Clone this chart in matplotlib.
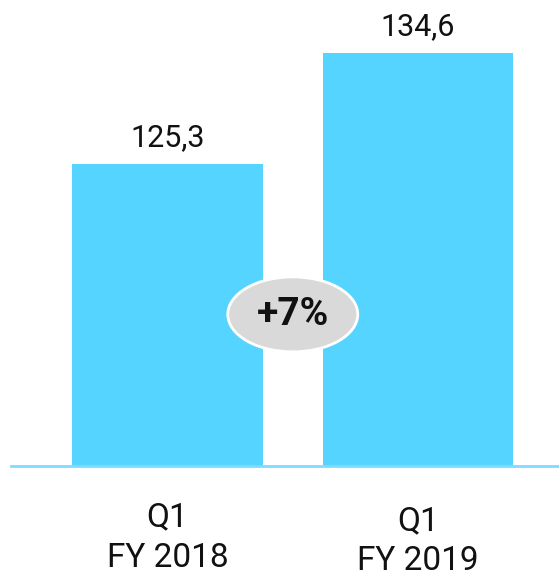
import matplotlib
matplotlib.use("Agg")
import matplotlib.pyplot as plt
from matplotlib.patches import Ellipse
from matplotlib.transforms import blended_transform_factory

categories = ["Q1\nFY 2018", "Q1\nFY 2019"]
values = [125.3, 134.6]
value_labels = ["125,3", "134,6"]
growth_label = "+7%"

plt.rcParams['font.family'] = ['Roboto', 'DejaVu Sans']

W, H, DPI = 559, 580, 100
fig = plt.figure(figsize=(W / DPI, H / DPI), dpi=DPI)
base_px = 466  # baseline pixel from top
ax = fig.add_axes([11 / W, (H - base_px) / H, 1 - 11 / W, base_px / H])

bar_color = "#55D4FF"
x = list(range(len(values)))
ax.bar(x, values, width=0.7625, color=bar_color, bottom=0, zorder=2)
ax.set_xlim(-0.625, 1.563)
ax.set_ylim(100.0, 139.03)
ax.axhline(100.0, color="#7FDBFF", lw=2.0, zorder=3, clip_on=False)

for xi, v, lab in zip(x, values, value_labels):
    ax.annotate(lab, xy=(xi, v), xytext=(0, 12.9), textcoords="offset points",
                ha="center", va="baseline", fontsize=22, color="#111111")

# growth bubble
ax.add_patch(Ellipse((0.5, 112.7), width=0.519, height=6.28,
                     facecolor="#D9D9D9", edgecolor="white", lw=2, zorder=4))
ax.text(0.5, 112.7, growth_label, ha="center", va="center", fontsize=28,
        fontweight="bold", color="#111111", zorder=5)

# category labels
tr = blended_transform_factory(ax.transData, fig.transFigure)
baselines = [(526, 567), (530, 570)]
for xi, cat, (b1, b2) in zip(x, categories, baselines):
    l1, l2 = cat.split("\n")
    ax.text(xi, (H - b1) / H, l1, transform=tr, ha="center", va="baseline",
            fontsize=24, color="#111111", clip_on=False)
    ax.text(xi, (H - b2) / H, l2, transform=tr, ha="center", va="baseline",
            fontsize=24, color="#111111", clip_on=False)

ax.axis("off")
fig.savefig("out.png", dpi=DPI, facecolor="white")
